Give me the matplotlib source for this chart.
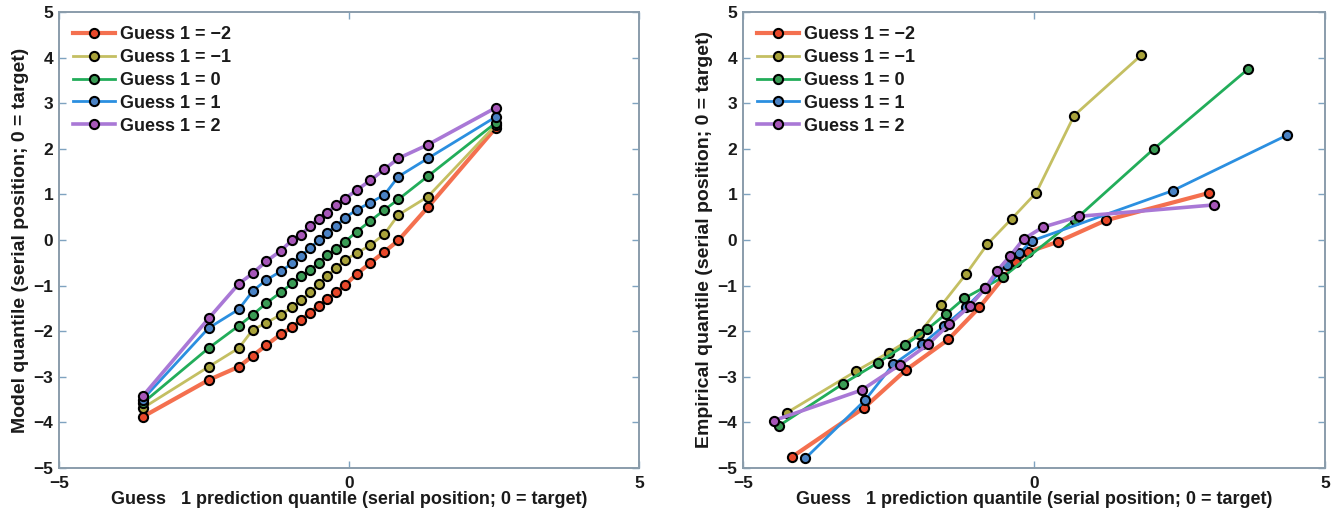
import matplotlib
matplotlib.use("Agg")
import matplotlib.pyplot as plt

plt.rcParams['font.family'] = ['Liberation Sans', 'DejaVu Sans']
plt.rcParams['font.weight'] = 'bold'

labels = ["Guess 1 = \u22122", "Guess 1 = \u22121", "Guess 1 = 0", "Guess 1 = 1", "Guess 1 = 2"]
line_colors = ["#f4704f", "#c4bf62", "#22ad5a", "#2b8fe0", "#a978d6"]
face_colors = ["#e8482a", "#a8a23a", "#3a9c55", "#4a82c4", "#a656b8"]
line_widths = [3.0, 2.0, 2.0, 2.0, 2.6]

# Left panel: model quantiles
model_x = [-3.56, -2.42, -1.90, -1.66, -1.43, -1.18, -0.98, -0.82, -0.67, -0.52,
           -0.38, -0.22, -0.07, 0.13, 0.37, 0.61, 0.85, 1.36, 2.53]
model_red = [-3.88, -3.07, -2.78, -2.54, -2.31, -2.07, -1.91, -1.75, -1.59, -1.45,
             -1.30, -1.15, -0.99, -0.75, -0.50, -0.26, -0.01, 0.72, 2.46]
model_yellow = [-3.69, -2.78, -2.37, -1.97, -1.82, -1.64, -1.47, -1.31, -1.15, -0.97,
                -0.79, -0.61, -0.44, -0.29, -0.11, 0.13, 0.55, 0.95, 2.52]
model_green = [-3.58, -2.37, -1.88, -1.64, -1.39, -1.15, -0.95, -0.80, -0.66, -0.50,
               -0.33, -0.20, -0.04, 0.18, 0.42, 0.66, 0.89, 1.40, 2.57]
model_blue = [-3.50, -1.93, -1.52, -1.12, -0.88, -0.69, -0.51, -0.34, -0.18, 0.00,
              0.16, 0.31, 0.49, 0.66, 0.82, 0.99, 1.39, 1.79, 2.70]
model_purple = [-3.43, -1.72, -0.96, -0.73, -0.47, -0.24, 0.00, 0.12, 0.31, 0.47,
                0.60, 0.77, 0.91, 1.09, 1.31, 1.55, 1.79, 2.09, 2.90]

# Right panel: empirical quantiles
emp_red_x = [-4.15, -2.92, -2.20, -1.47, -0.94, -0.31, -0.10, 0.41, 1.23, 3.00]
emp_red_y = [-4.75, -3.68, -2.85, -2.18, -1.48, -0.48, -0.26, -0.04, 0.43, 1.03]
emp_yellow_x = [-4.25, -3.05, -2.50, -1.98, -1.59, -1.17, -0.80, -0.38, 0.04, 0.69, 1.84]
emp_yellow_y = [-3.79, -2.87, -2.47, -2.06, -1.43, -0.75, -0.09, 0.47, 1.04, 2.73, 4.05]
emp_green_x = [-4.39, -3.29, -2.68, -2.22, -1.83, -1.51, -1.20, -0.54, 0.70, 2.06, 3.67]
emp_green_y = [-4.08, -3.16, -2.69, -2.31, -1.95, -1.62, -1.28, -0.82, 0.44, 2.00, 3.74]
emp_blue_x = [-3.93, -2.90, -2.42, -1.93, -1.54, -1.17, -0.84, -0.47, -0.25, -0.04, 2.38, 4.35]
emp_blue_y = [-4.79, -3.51, -2.73, -2.29, -1.88, -1.48, -1.06, -0.55, -0.29, -0.02, 1.08, 2.30]
emp_purple_x = [-4.47, -2.96, -2.31, -1.82, -1.46, -1.10, -0.84, -0.63, -0.41, -0.18, 0.15, 0.78, 3.10]
emp_purple_y = [-3.96, -3.29, -2.74, -2.29, -1.85, -1.45, -1.06, -0.67, -0.35, 0.02, 0.28, 0.52, 0.77]

x_ticks = [-5, 0, 5]
y_ticks = [-5, -4, -3, -2, -1, 0, 1, 2, 3, 4, 5]
xlabel = "Guess   1 prediction quantile (serial position; 0 = target)"
ylabels = ["Model quantile (serial position; 0 = target)",
           "Empirical quantile (serial position; 0 = target)"]

fig = plt.figure(figsize=(13.34, 5.19), dpi=100)
ax1 = fig.add_axes([59 / 1334, 1 - 468 / 519, 580 / 1334, 456 / 519])
ax2 = fig.add_axes([743 / 1334, 1 - 468 / 519, 582 / 1334, 456 / 519])

spine_col = "#8a9cab"

def style(ax, ylab):
    ax.set_xlim(-5, 5)
    ax.set_ylim(-5, 5)
    ax.set_xticks(x_ticks)
    ax.set_yticks(y_ticks)
    ax.tick_params(direction='in', length=5, width=1, color="#7fa3c0",
                   top=True, right=True, labelsize=12.5, labelcolor="#1a1a1a")
    ax.tick_params(axis='x', pad=6)
    ax.tick_params(axis='y', pad=4)
    for lab in ax.get_xticklabels() + ax.get_yticklabels():
        lab.set_fontweight('bold')
    for s in ax.spines.values():
        s.set_color(spine_col)
        s.set_linewidth(1.4)
    ax.set_xlabel(xlabel, fontsize=13, fontweight='bold', color="#1a1a1a", labelpad=0)
    ax.set_ylabel(ylab, fontsize=14, fontweight='bold', color="#1a1a1a", labelpad=3)
    leg = ax.legend(loc='upper left', frameon=False, fontsize=13,
                    handlelength=2.3, handletextpad=0.3, labelspacing=0.32,
                    borderaxespad=0.5, borderpad=0.3)
    for t in leg.get_texts():
        t.set_fontweight('bold')
        t.set_color("#1a1a1a")

model_ys = [model_red, model_yellow, model_green, model_blue, model_purple]
for i, ys in enumerate(model_ys):
    ax1.plot(model_x, ys, '-o', color=line_colors[i], lw=line_widths[i],
             markersize=6.6, markerfacecolor=face_colors[i],
             markeredgecolor='black', markeredgewidth=1.5, label=labels[i])

emp_xs = [emp_red_x, emp_yellow_x, emp_green_x, emp_blue_x, emp_purple_x]
emp_ys = [emp_red_y, emp_yellow_y, emp_green_y, emp_blue_y, emp_purple_y]
for i in range(5):
    ax2.plot(emp_xs[i], emp_ys[i], '-o', color=line_colors[i], lw=line_widths[i],
             markersize=6.6, markerfacecolor=face_colors[i],
             markeredgecolor='black', markeredgewidth=1.5, label=labels[i])

style(ax1, ylabels[0])
style(ax2, ylabels[1])

fig.savefig("out.png", dpi=100, facecolor="white")
